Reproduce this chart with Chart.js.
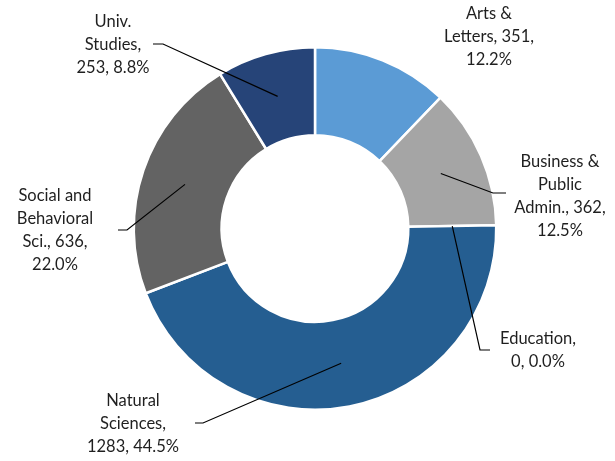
<!DOCTYPE html>
<html>
<head>
<meta charset="utf-8">
<script src="https://cdn.jsdelivr.net/npm/chart.js@4.4.1/dist/chart.umd.min.js"></script>
<style>
  html, body { margin: 0; padding: 0; background: #fff; }
  #wrap { width: 615px; height: 461px; }
</style>
</head>
<body>
<div id="wrap"><canvas id="donut" width="615" height="461"></canvas></div>
<script>
// data
const categories = ['Arts & Letters', 'Business & Public Admin.', 'Education', 'Natural Sciences', 'Social and Behavioral Sci.', 'Univ. Studies'];
const counts = [351, 362, 0, 1283, 636, 253];
const colors = ['#5B9BD5', '#A5A5A5', '#4472C4', '#255E91', '#636363', '#264478'];

// how many words go on each line of the data label
const labelBreaks = [[2, 2, 1], [2, 1, 2, 1], [1, 2], [1, 1, 2], [2, 1, 2, 1], [1, 1, 2]];

// label placement, relative to the doughnut centre (text centre / leader elbow / leader end x)
const labelPos = [
  { tx: 174, ty: -214.5 },
  { tx: 245, ty: -66.5, ex: 178, ey: -35.5, endX: 191 },
  { tx: 223, ty: 110.5, ex: 165, ey: 121.5, endX: 175 },
  { tx: -182, ty: 172.5, ex: -112, ey: 194.5, endX: -120 },
  { tx: -260, ty: -32.5, ex: -188, ey: 1.5, endX: -197 },
  { tx: -202, ty: -206.5, ex: -152, ey: -184.5, endX: -162 }
];

const total = counts.reduce((a, b) => a + b, 0);

function labelLines(i) {
  const pct = (counts[i] / total * 100).toFixed(1) + '%';
  const words = (categories[i] + ', ' + counts[i] + ', ' + pct).split(' ');
  const lines = [];
  let k = 0;
  labelBreaks[i].forEach(n => {
    lines.push(words.slice(k, k + n).join(' '));
    k += n;
  });
  return lines;
}

const calloutPlugin = {
  id: 'callouts',
  afterDatasetsDraw(chart) {
    const c = chart.ctx;
    const meta = chart.getDatasetMeta(0);
    c.save();
    meta.data.forEach((arc, i) => {
      const pos = labelPos[i];
      const cx = arc.x, cy = arc.y;
      if (pos.ex !== undefined) {
        const p = arc.tooltipPosition(true);
        c.beginPath();
        c.moveTo(p.x, p.y);
        c.lineTo(cx + pos.ex, cy + pos.ey);
        c.lineTo(cx + pos.endX, cy + pos.ey);
        c.strokeStyle = '#000';
        c.lineWidth = 1.2;
        c.stroke();
      }
      c.fillStyle = '#1f1f1f';
      c.font = '16.5px Lato';
      c.textAlign = 'center';
      c.textBaseline = 'middle';
      labelLines(i).forEach((line, j) => {
        c.fillText(line, cx + pos.tx, cy + pos.ty + j * 23);
      });
    });
    c.restore();
  }
};

const ctx = document.getElementById('donut').getContext('2d');
const chart = new Chart(ctx, {
  type: 'doughnut',
  data: {
    labels: categories,
    datasets: [{
      data: counts,
      backgroundColor: colors,
      borderColor: '#ffffff',
      borderWidth: 2.5
    }]
  },
  options: {
    responsive: false,
    animation: false,
    cutout: '51.5%',
    layout: { padding: { top: 46, bottom: 50, left: 130, right: 115 } },
    plugins: {
      legend: { display: false },
      tooltip: { enabled: false }
    }
  },
  plugins: [calloutPlugin]
});
</script>
</body>
</html>
